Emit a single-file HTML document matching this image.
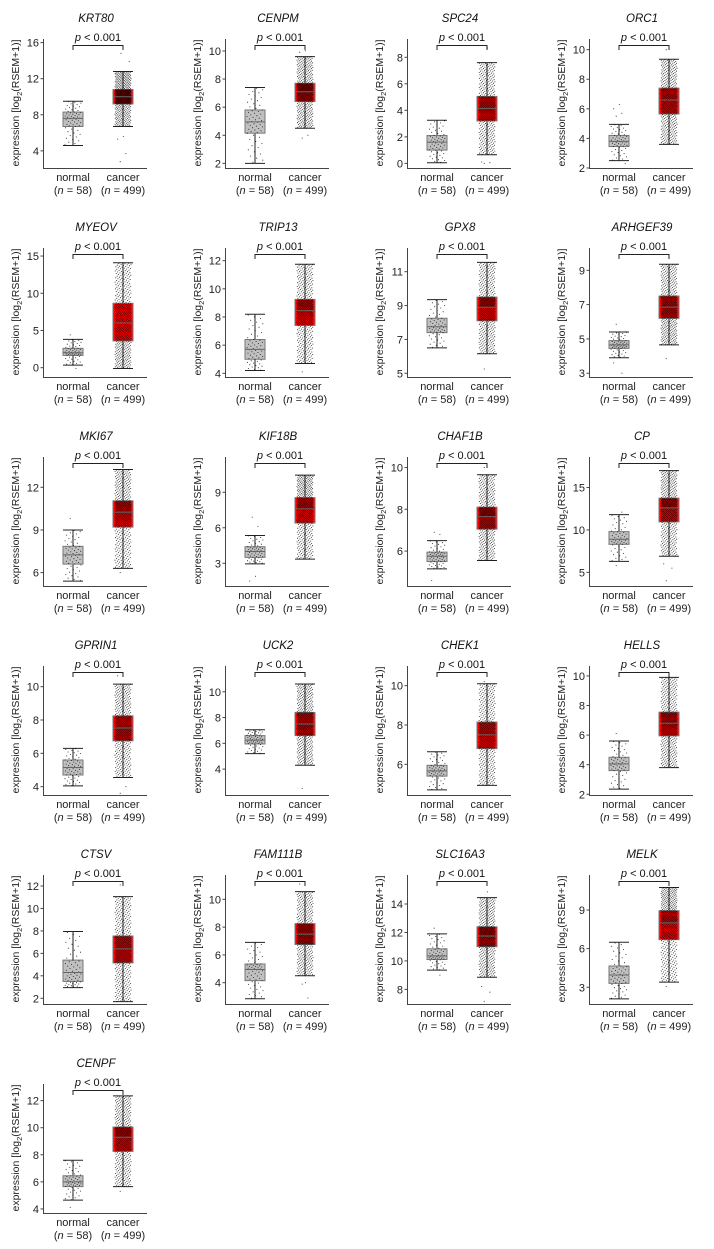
<!DOCTYPE html>
<html><head><meta charset="utf-8"><style>
html,body{margin:0;padding:0;background:#fff;}
svg{display:block;font-family:"Liberation Sans",Arial,sans-serif;}
</style></head><body>
<svg id="chart" width="714" height="1249" viewBox="0 0 714 1249" xmlns="http://www.w3.org/2000/svg"></svg>
<script>
const genes = ["KRT80","CENPM","SPC24","ORC1","MYEOV","TRIP13","GPX8","ARHGEF39","MKI67","KIF18B","CHAF1B","CP","GPRIN1","UCK2","CHEK1","HELLS","CTSV","FAM111B","SLC16A3","MELK","CENPF"];
const domains = [[2.1,16.4],[1.67,10.85],[-0.35,9.38],[2,10.72],[-1.25,16.08],[3.74,12.9],[4.78,12.4],[2.78,10.3],[5.06,14.13],[1.08,11.98],[4.33,10.5],[3.39,18.6],[3.5,11.24],[1.99,12.0],[4.44,11.0],[1.95,10.67],[1.49,12.98],[2.47,11.75],[6.97,16.04],[1.7,11.72],[3.7,13.23]];
const tickValues = [[4,8,12,16],[2,4,6,8,10],[0,2,4,6,8],[2,4,6,8,10],[0,5,10,15],[4,6,8,10,12],[5,7,9,11],[3,5,7,9],[6,9,12],[3,6,9],[6,8,10],[5,10,15],[4,6,8,10],[4,6,8,10],[6,8,10],[2,4,6,8,10],[2,4,6,8,10,12],[4,6,8,10],[8,10,12,14],[3,6,9],[4,6,8,10,12]];
const normalStats = [[4.6,6.7,7.6,8.3,9.5],[2.0,4.15,4.95,5.8,7.4],[0.05,1.0,1.6,2.1,3.25],[2.5,3.45,3.8,4.2,4.95],[0.35,1.65,2.0,2.6,3.8],[4.2,5.0,5.7,6.4,8.2],[6.5,7.4,7.75,8.25,9.35],[3.9,4.45,4.65,4.9,5.4],[5.4,6.6,7.25,7.85,9.0],[2.95,3.5,4.0,4.4,5.35],[5.15,5.5,5.75,5.95,6.5],[6.3,8.3,8.9,9.8,11.8],[4.05,4.7,5.15,5.6,6.3],[5.2,5.95,6.25,6.6,7.05],[4.7,5.4,5.67,5.95,6.64],[2.35,3.6,4.05,4.5,5.6],[2.95,3.5,4.3,5.4,7.95],[2.85,4.15,4.95,5.35,6.9],[9.35,10.1,10.35,10.85,11.9],[2.1,3.3,3.95,4.65,6.5],[4.65,5.65,6.0,6.45,7.6]];
const cancerStats = [[6.7,9.2,10,10.8,12.8],[4.5,6.4,7.1,7.7,9.6],[0.65,3.2,4.15,5.05,7.6],[3.6,5.65,6.6,7.4,9.35],[-0.1,3.6,6.0,8.65,14.1],[4.7,7.4,8.45,9.25,11.75],[6.15,8.1,8.9,9.5,11.55],[4.65,6.2,6.85,7.5,9.35],[6.3,9.2,10.25,11.05,13.25],[3.35,6.4,7.6,8.55,10.45],[5.55,7.05,7.65,8.1,9.65],[6.9,10.95,12.6,13.75,17.0],[4.55,6.75,7.52,8.25,10.15],[4.3,6.6,7.5,8.4,10.6],[4.93,6.8,7.5,8.15,10.1],[3.8,5.95,6.8,7.55,9.9],[1.7,5.15,6.4,7.55,11.05],[4.5,6.75,7.5,8.25,10.55],[8.85,11.0,11.75,12.4,14.45],[3.4,6.7,8.0,8.95,10.75],[5.65,8.25,9.3,10.05,12.35]];
const normalOutliers = [[],[],[],[5.5,5.7,6.0,6.3,2.3],[4.4,-0.1],[],[],[5.85,3.0,3.6],[9.8],[6.9,6.1,1.5,1.9],[6.9,6.8,4.6],[5.8,12.1],[],[],[],[6.1],[],[],[12.3,9.0],[],[4.1]];
const cancerOutliers = [[2.8,3.7,5.3,5.6,13.9,14.8],[3.8,4.0,9.9,10.0],[0,0.05,0.1,8.7],[10.0],[],[4.1],[5.25],[3.85],[6.0],[],[10.0],[4.0,5.5,6.0],[3.6,4.0,10.65],[2.5],[10.2],[],[12.1],[3.9,2.9,11.1,4.0],[7.15,7.8,8.2,14.85],[3.05],[5.3]];
const groupLabels = ["normal","cancer"];
const groupCounts = [58,499];

const NS="http://www.w3.org/2000/svg";
const svg=document.getElementById('chart');
function mk(tag,attrs,parent){const e=document.createElementNS(NS,tag);for(const k in attrs)e.setAttribute(k,attrs[k]);parent.appendChild(e);return e;}
function quant(st,p){const ps=[0,0.25,0.5,0.75,1];for(let i=0;i<4;i++){if(p<=ps[i+1]){const t=(p-ps[i])/0.25;return st[i]+(st[i+1]-st[i])*t;}}return st[4];}
function frac(x){return x-Math.floor(x);}

genes.forEach((g,k)=>{
  const ox=(k%4)*182, oy=Math.floor(k/4)*209;
  const gp=mk('g',{transform:`translate(${ox},${oy})`},svg);
  
  
  const [lo,hi]=domains[k];
  const Y=v=>168-(v-lo)/(hi-lo)*129;
  const X=[73,123];
  const t=mk('text',{x:96,y:22,'text-anchor':'middle','font-size':'11.5','font-style':'italic',fill:'#111'},gp);t.textContent=g;
  
  
  const pv=mk('text',{x:98,y:41,'text-anchor':'middle','font-size':'11',fill:'#111'},gp);
  pv.innerHTML='<tspan font-style="italic">p</tspan> &lt; 0.001';
  
  
  const br=mk('path',{d:'M73,50V45.5H123V50',fill:'none',stroke:'#222','stroke-width':'1'},gp);
  
  
  const ax=mk('path',{d:'M43.5,39V168.5H147',fill:'none',stroke:'#444','stroke-width':'1'},gp);
  
  
  tickValues[k].forEach(v=>{
    const y=Y(v);
    mk('line',{x1:40.5,x2:43.5,y1:y,y2:y,stroke:'#444','stroke-width':'1'},gp);
    const tl=mk('text',{x:39,y:y+4,'text-anchor':'end','font-size':'11',fill:'#222'},gp);tl.textContent=v;
    
    
  });
  const yl=mk('text',{transform:'translate(19,103) rotate(-90)','text-anchor':'middle','font-size':'10.5',fill:'#222'},gp);
  yl.innerHTML='expression [log<tspan font-size="7.5" dy="3">2</tspan><tspan dy="-3">(RSEM+1)]</tspan>';
  
  
  [0,1].forEach(gi=>{
    const st=gi?cancerStats[k]:normalStats[k];
    const outs=gi?cancerOutliers[k]:normalOutliers[k];
    const cx=X[gi];
    const box=mk('g',{},gp);
    
    
    mk('line',{x1:cx,x2:cx,y1:Y(st[0]),y2:Y(st[4]),stroke:'#222','stroke-width':'1'},box);
    mk('line',{x1:cx-10,x2:cx+10,y1:Y(st[0]),y2:Y(st[0]),stroke:'#222','stroke-width':'1'},box);
    mk('line',{x1:cx-10,x2:cx+10,y1:Y(st[4]),y2:Y(st[4]),stroke:'#222','stroke-width':'1'},box);
    mk('rect',{x:cx-10,y:Y(st[3]),width:20,height:Y(st[1])-Y(st[3]),fill:gi?'#ff0000':'#c0c0c0',stroke:'#777','stroke-width':'1'},box);
    const n=groupCounts[gi];
    let d='';
    const nq=n-outs.length;
    for(let i=0;i<nq;i++){
      const v=quant(st,(i+0.5)/nq);
      const x=cx+(frac(i*0.6180339+k*0.37+gi*0.21)-0.5)*16;
      d+=`M${x.toFixed(1)},${Y(v).toFixed(1)}h0.01`;
    }
    outs.forEach((v,i)=>{const x=cx+(frac(i*0.41+0.3)-0.5)*14;d+=`M${x.toFixed(1)},${Y(v).toFixed(1)}h0.01`;});
    const pts=mk('path',{d:d,stroke:'#000','stroke-width':'1.05','stroke-linecap':'round',fill:'none','stroke-opacity':'0.85'},box);
    
    
    mk('line',{x1:cx-10,x2:cx+10,y1:Y(st[2]),y2:Y(st[2]),stroke:'#666','stroke-width':'1'},box);
    const xl=mk('text',{x:cx,y:181,'text-anchor':'middle','font-size':'11',fill:'#222'},gp);xl.textContent=groupLabels[gi];
    
    
    const nl=mk('text',{x:cx,y:194,'text-anchor':'middle','font-size':'11',fill:'#222'},gp);
    nl.innerHTML='(<tspan font-style="italic">n</tspan> = '+groupCounts[gi]+')';
    
    
  });
});
</script>
</body></html>
